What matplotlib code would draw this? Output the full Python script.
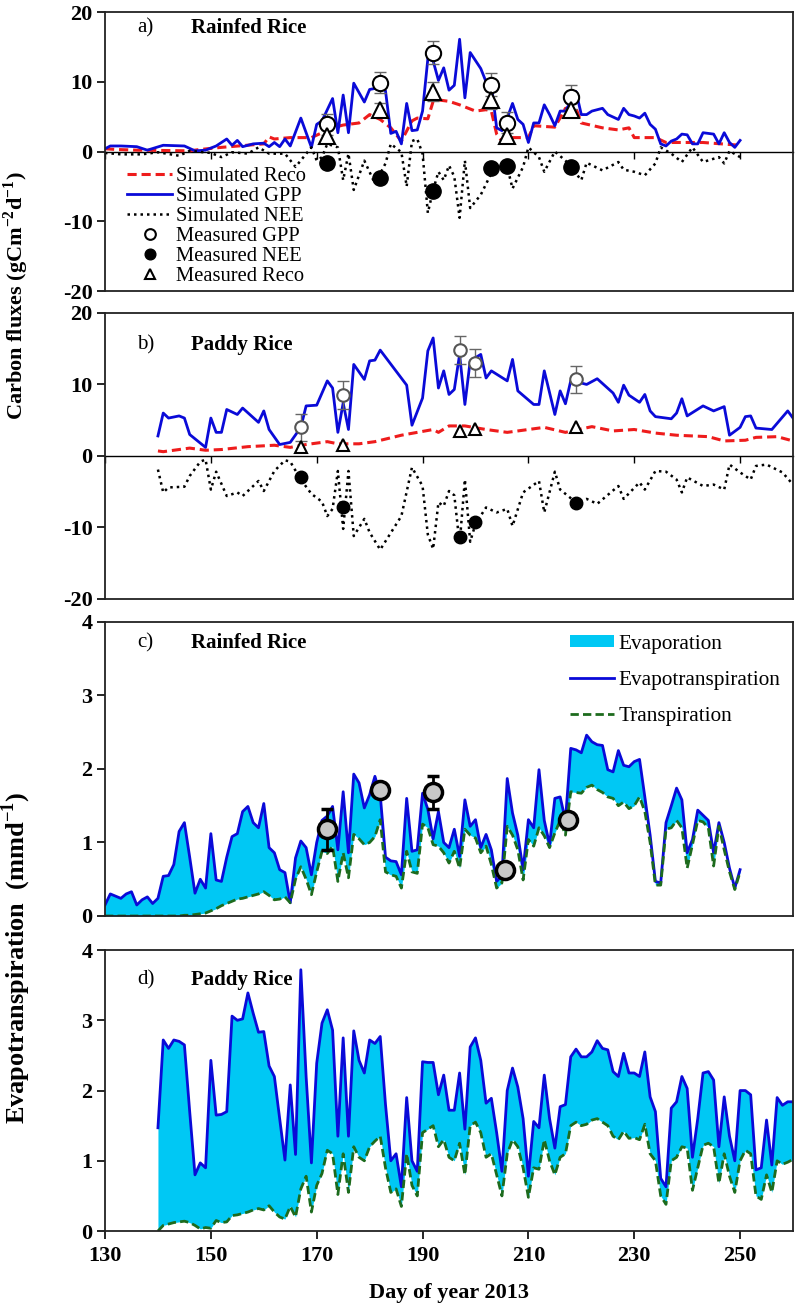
import matplotlib
matplotlib.use("Agg")
import matplotlib.pyplot as plt

plt.rcParams["font.family"] = ["Liberation Serif", "DejaVu Serif"]
plt.rcParams["mathtext.fontset"] = "custom"
plt.rcParams["mathtext.rm"] = "Liberation Serif"
plt.rcParams["mathtext.bf"] = "Liberation Serif:bold"

# ---------------- data: panel a (rainfed rice, carbon) ----------------
gpp_a_day = [130, 131, 133, 136, 138, 141, 145, 147, 149, 151, 153, 154, 155, 156, 158,
             160, 161, 162, 163, 164, 165, 167, 169, 170, 171, 173, 174, 175, 176, 177,
             179, 180, 182, 183, 184, 185, 186, 187, 188, 189, 190, 191, 192, 193, 194,
             195, 196, 197, 198, 199, 201, 202, 203, 204, 205, 206, 207, 208, 209, 210,
             211, 212, 213, 214, 215, 216, 217, 218, 219, 220, 221, 222, 224, 225, 227,
             228, 229, 230, 231, 232, 233, 234, 235, 236, 237, 238, 239, 240, 241, 242,
             243, 244, 245, 246, 247, 248, 249, 250]
gpp_a = [0.4, 0.8, 0.8, 0.7, 0.2, 0.9, 0.8, 0.1, 0.2, 0.8, 1.8, 0.9, 1.6, 0.7, 1.1,
         1.2, 0.7, 1.3, 0.7, 1.8, 0.8, 4.8, 0.6, 3.9, 4.4, 7.6, 2.7, 8.1, 2.7, 9.8,
         7.1, 8.9, 9.2, 8.7, 2.6, 2.9, 1.1, 6.9, 3.0, 3.1, 5.8, 13.3, 13.0, 10.2, 12.0,
         8.8, 9.5, 16.1, 7.7, 14.2, 11.9, 10.0, 9.6, 3.4, 3.0, 4.8, 6.9, 4.6, 3.9, 1.3,
         4.1, 4.1, 6.7, 5.3, 3.7, 5.8, 5.8, 7.2, 8.6, 5.3, 5.3, 5.8, 6.2, 5.3, 4.6,
         6.2, 5.3, 5.1, 4.8, 5.5, 3.9, 3.2, 1.1, 0.8, 1.5, 1.8, 2.5, 2.4, 1.1, 1.1,
         2.7, 2.6, 2.5, 1.1, 2.7, 1.3, 0.6, 1.6]
reco_a_day = [130, 132, 136, 146, 148, 152, 160, 161, 162, 165, 169, 171, 173, 175, 178,
              180, 182, 184, 186, 188, 189, 191, 192, 193, 195, 197, 200, 202, 203, 204,
              205, 206, 210, 211, 215, 217, 219, 220, 224, 227, 229, 230, 234, 236, 243, 250]
reco_a = [0.4, 0.3, 0.2, 0.1, 0.3, 0.6, 1.1, 2.1, 1.8, 2.0, 2.0, 2.7, 3.4, 3.8, 4.1,
          5.3, 4.6, 3.4, 1.5, 4.4, 4.8, 4.7, 7.2, 7.4, 7.2, 6.7, 5.8, 6.0, 5.8, 2.5,
          1.5, 2.0, 2.0, 3.7, 3.5, 6.2, 6.2, 4.1, 3.4, 3.1, 3.4, 2.0, 2.0, 1.3, 1.3, 0.9]
nee_a_day = [130, 133, 137, 140, 144, 146, 150, 152, 154, 157, 159, 161, 164, 166, 169,
             170, 171, 172, 174, 175, 176, 177, 179, 181, 183, 184, 186, 187, 188, 189,
             190, 191, 192, 193, 194, 195, 196, 197, 198, 199, 201, 203, 204, 206, 207,
             209, 210, 212, 213, 215, 217, 220, 221, 224, 227, 228, 230, 232, 234, 235,
             237, 239, 241, 243, 246, 247, 248, 250]
nee_a = [-0.2, -0.4, -0.4, -0.1, -0.6, 0.1, -0.2, -0.8, -0.1, -0.3, 0.6, -0.3, -0.3, -2.2, 0.6,
         -1.3, -0.8, 1.1, 0.6, -4.1, -0.3, -5.5, -1.3, -4.6, -1.7, 1.1, -0.1, -5.0, 1.5, 1.8,
         -0.3, -8.8, -5.5, -2.9, -4.1, -2.0, -3.6, -9.5, -1.3, -8.1, -6.2, -3.1, -2.2, -2.2, -5.3,
         -2.2, 0.6, -0.8, -2.9, 0.0, -1.3, -4.1, -1.6, -2.7, -1.5, -2.6, -2.9, -3.4, -1.7, 0.6,
         -0.3, -1.5, 0.6, -1.5, -0.8, -1.7, 0.1, -0.8]
meas_a_day = [172, 182, 192, 203, 206, 218]
gpp_meas_a = [3.9, 9.9, 14.2, 9.6, 4.1, 7.8]
gpp_err_a = [1.5, 1.5, 1.6, 1.6, 1.5, 1.7]
nee_meas_a = [-1.6, -3.8, -5.6, -2.3, -2.0, -2.2]
reco_meas_a = [2.3, 6.0, 8.6, 7.4, 2.3, 6.0]
reco_err_a = [0.8, 0.9, 1.4, 1.3, 1.1, 1.0]

# ---------------- data: panel b (paddy rice, carbon) ----------------
gpp_b_day = [140, 141, 142, 144, 145, 146, 149, 150, 151, 152, 153, 155, 156, 159, 160,
             161, 163, 165, 167, 168, 170, 172, 173, 174, 175, 176, 177, 179, 180, 181,
             182, 187, 188, 190, 191, 192, 193, 194, 195, 196, 197, 198, 199, 201, 202,
             203, 206, 207, 208, 211, 212, 213, 215, 216, 217, 218, 220, 221, 223, 226,
             227, 228, 229, 231, 232, 233, 234, 237, 238, 239, 240, 243, 245, 247, 248,
             250, 251, 252, 253, 256, 259, 260]
gpp_b = [2.8, 6.0, 5.3, 5.6, 5.3, 3.0, 1.2, 5.3, 3.3, 3.3, 6.5, 5.8, 6.7, 4.7, 6.3,
         3.7, 1.6, 1.9, 4.0, 7.0, 7.1, 10.5, 9.5, 3.3, 7.4, 3.7, 12.8, 10.7, 13.3, 13.4,
         14.8, 9.9, 4.3, 8.1, 14.7, 16.5, 9.5, 11.9, 8.6, 9.3, 14.2, 7.2, 13.3, 14.2, 10.9,
         11.9, 10.5, 13.5, 9.1, 7.2, 7.2, 11.9, 5.8, 9.1, 7.3, 10.5, 10.2, 10.0, 10.8, 8.8,
         7.5, 9.9, 8.5, 7.5, 8.6, 6.3, 5.5, 5.2, 6.0, 8.0, 5.6, 7.0, 6.3, 6.9, 2.9,
         4.0, 5.5, 5.6, 3.9, 3.7, 6.3, 5.3]
reco_b_day = [140, 141, 144, 146, 149, 152, 157, 162, 165, 168, 172, 174, 178, 181, 186,
              189, 192, 193, 195, 198, 202, 206, 210, 213, 217, 222, 226, 230, 234, 238,
              244, 247, 251, 253, 257, 260]
reco_b = [0.7, 0.6, 0.9, 1.1, 0.8, 0.9, 1.3, 1.5, 1.2, 1.6, 2.0, 1.7, 1.7, 2.0, 2.9,
          3.3, 3.7, 3.3, 4.2, 4.2, 3.7, 3.3, 3.7, 4.0, 3.3, 4.1, 3.5, 3.7, 3.2, 2.9,
          2.7, 2.1, 2.2, 2.6, 2.7, 2.1]
nee_b_day = [140, 141, 142, 145, 146, 148, 149, 150, 151, 153, 155, 156, 159, 160, 162,
             164, 165, 167, 169, 171, 172, 173, 174, 175, 176, 177, 179, 180, 182, 186,
             188, 190, 191, 192, 193, 194, 195, 196, 197, 198, 199, 200, 202, 204, 206,
             207, 209, 212, 213, 215, 216, 217, 219, 221, 223, 227, 228, 231, 232, 234,
             236, 238, 239, 240, 243, 245, 247, 248, 250, 252, 253, 255, 258, 260]
nee_b = [-1.9, -5.1, -4.4, -4.3, -2.8, -0.8, -0.5, -4.7, -2.2, -5.6, -5.1, -5.6, -3.5, -4.9, -2.1,
         -0.6, -0.8, -3.3, -5.3, -6.4, -8.4, -7.4, -2.1, -10.2, -2.1, -11.2, -8.8, -10.7, -13.1, -8.4,
         -1.6, -4.2, -11.0, -13.0, -6.5, -7.0, -4.9, -5.5, -12.3, -3.3, -12.0, -9.5, -7.2, -7.9, -7.4,
         -9.8, -5.1, -3.5, -7.9, -2.2, -4.7, -5.3, -6.5, -6.0, -6.7, -4.2, -6.0, -3.7, -4.7, -2.1,
         -2.2, -3.3, -5.1, -3.0, -4.2, -4.0, -4.7, -1.2, -2.3, -3.3, -1.4, -1.2, -2.3, -4.0]
meas_b_day = [167, 175, 197, 200, 219]
gpp_meas_b = [4.0, 8.5, 14.8, 13.0, 10.7]
gpp_err_b = [1.9, 2.0, 2.0, 2.0, 1.9]
nee_meas_b = [-2.9, -7.1, -11.3, -9.2, -6.6]
reco_meas_b = [1.2, 1.5, 3.5, 3.8, 4.0]

# ---------------- data: panel c (rainfed rice, water) ----------------
et_c_day = list(range(130, 251))
et_c = [0.15, 0.30, 0.27, 0.24, 0.30, 0.33, 0.15, 0.22, 0.26, 0.17,
        0.24, 0.54, 0.55, 0.70, 1.15, 1.27, 0.80, 0.31, 0.50, 0.38,
        1.12, 0.49, 0.47, 0.80, 1.08, 1.12, 1.42, 1.49, 1.27, 1.20,
        1.53, 0.93, 0.86, 0.63, 0.59, 0.18, 0.79, 1.02, 0.93, 0.56,
        1.00, 1.30, 1.36, 1.49, 0.90, 1.69, 0.86, 1.93, 1.81, 1.47,
        1.65, 1.90, 1.65, 0.80, 0.75, 0.74, 0.56, 1.60, 0.88, 0.90,
        1.67, 1.45, 1.05, 1.42, 1.00, 0.93, 1.18, 0.81, 1.58, 1.22,
        1.31, 0.93, 1.11, 0.90, 0.47, 0.55, 1.87, 1.40, 1.10, 0.63,
        1.31, 1.20, 1.99, 1.30, 0.97, 1.60, 1.62, 1.30, 2.28, 2.26,
        2.22, 2.46, 2.37, 2.33, 2.32, 1.99, 1.96, 2.25, 2.05, 2.03,
        2.10, 2.13, 1.62, 1.10, 0.47, 0.45, 1.27, 1.50, 1.74, 1.58,
        0.86, 1.04, 1.44, 1.37, 1.30, 0.86, 1.27, 1.00, 0.65, 0.38,
        0.63]
tr_c = [0.00, 0.00, 0.00, 0.00, 0.00, 0.00, 0.00, 0.00, 0.00, 0.00,
        0.00, 0.00, 0.00, 0.00, 0.00, 0.01, 0.01, 0.02, 0.03, 0.04,
        0.07, 0.10, 0.14, 0.17, 0.20, 0.23, 0.24, 0.26, 0.28, 0.30,
        0.33, 0.28, 0.22, 0.23, 0.26, 0.18, 0.50, 0.67, 0.50, 0.29,
        0.60, 0.88, 0.85, 0.95, 0.47, 0.86, 0.52, 1.11, 1.05, 0.97,
        1.00, 1.08, 1.31, 0.60, 0.56, 0.54, 0.38, 0.88, 0.60, 0.58,
        1.25, 1.20, 0.97, 0.95, 0.86, 0.72, 0.88, 0.65, 1.18, 1.10,
        1.06, 0.86, 0.95, 0.70, 0.38, 0.45, 1.22, 1.10, 0.90, 0.49,
        1.04, 0.95, 1.20, 1.09, 0.93, 1.13, 1.30, 1.10, 1.69, 1.68,
        1.67, 1.75, 1.78, 1.72, 1.68, 1.62, 1.60, 1.50, 1.55, 1.46,
        1.50, 1.62, 1.42, 1.00, 0.42, 0.42, 1.18, 1.20, 1.30, 1.20,
        0.65, 0.97, 1.30, 1.28, 1.20, 0.68, 1.22, 0.90, 0.60, 0.36,
        0.60]
meas_c_day = [172, 182, 192, 205.5, 217.5]
et_meas_c = [1.18, 1.72, 1.68, 0.63, 1.30]
et_err_c = [0.28, 0.0, 0.22, 0.0, 0.0]

# ---------------- data: panel d (paddy rice, water) ----------------
et_d_day = list(range(140, 261))
et_d = [1.47, 2.72, 2.60, 2.72, 2.70, 2.65, 1.70, 0.80, 0.97, 0.90,
        2.43, 1.65, 1.66, 1.70, 3.06, 3.00, 3.02, 3.39, 3.10, 2.83,
        2.84, 2.35, 2.20, 1.60, 1.01, 2.08, 1.09, 3.72, 2.20, 0.97,
        2.39, 2.96, 3.15, 2.86, 1.35, 2.75, 1.35, 2.85, 2.43, 2.25,
        2.72, 2.67, 2.77, 1.80, 1.00, 1.10, 0.63, 1.90, 1.00, 0.85,
        2.41, 2.40, 2.40, 1.94, 2.22, 1.72, 1.72, 2.25, 1.45, 2.62,
        2.75, 2.43, 1.82, 1.89, 1.40, 0.85, 2.00, 2.32, 2.05, 1.60,
        0.78, 1.56, 1.47, 2.22, 1.60, 1.18, 1.77, 1.80, 2.48, 2.59,
        2.48, 2.48, 2.55, 2.71, 2.60, 2.58, 2.27, 2.20, 2.53, 2.25,
        2.25, 2.20, 2.55, 1.91, 1.70, 0.75, 0.63, 1.75, 1.84, 2.20,
        2.03, 1.05, 1.60, 2.25, 2.27, 2.15, 1.20, 1.91, 1.35, 1.00,
        2.00, 2.00, 1.94, 0.87, 0.90, 1.58, 0.94, 1.90, 1.79, 1.84,
        1.84]
tr_d = [0.00, 0.08, 0.10, 0.12, 0.13, 0.14, 0.12, 0.08, 0.03, 0.05,
        0.04, 0.15, 0.12, 0.13, 0.22, 0.23, 0.25, 0.27, 0.30, 0.32,
        0.30, 0.36, 0.27, 0.20, 0.17, 0.35, 0.20, 0.60, 0.78, 0.27,
        0.65, 0.82, 1.15, 1.10, 0.52, 1.10, 0.55, 1.20, 1.05, 1.00,
        1.20, 1.28, 1.35, 0.90, 0.55, 0.60, 0.35, 1.10, 0.65, 0.50,
        1.40, 1.45, 1.50, 1.20, 1.30, 1.05, 1.00, 1.25, 0.80, 1.50,
        1.55, 1.40, 1.05, 1.10, 0.80, 0.50, 1.10, 1.30, 1.20, 0.90,
        0.48, 0.90, 0.88, 1.30, 1.00, 0.80, 1.05, 1.10, 1.50, 1.55,
        1.50, 1.52, 1.58, 1.60, 1.55, 1.50, 1.35, 1.30, 1.42, 1.32,
        1.33, 1.30, 1.52, 1.10, 1.00, 0.50, 0.38, 1.00, 1.05, 1.20,
        1.18, 0.58, 0.90, 1.22, 1.25, 1.20, 0.68, 1.10, 0.78, 0.55,
        1.00, 1.15, 1.10, 0.50, 0.45, 0.80, 0.55, 1.00, 0.95, 0.98,
        1.02]

carbon_ticks = [-20, -10, 0, 10, 20]
carbon_labels = ["-20", "-10", "0", "10", "20"]
water_ticks = [0, 1, 2, 3, 4]
day_ticks = [130, 150, 170, 190, 210, 230, 250]

BLUE = "#0a0ad8"
RED = "#ee1c1c"
CYAN = "#00c8f4"
GREEN = "#1d6b1d"
TICK_FONT = dict(fontsize=16, fontweight="bold")


def frame(ax, ticks, labels, ylim):
    ax.set_xlim(130, 260)
    ax.set_ylim(*ylim)
    ax.set_yticks(ticks)
    ax.set_yticklabels(labels, **TICK_FONT)
    ax.tick_params(axis="y", direction="out", length=6, width=1.2, right=False, pad=3)
    ax.set_xticks([])
    for s in ax.spines.values():
        s.set_linewidth(1.3)
        s.set_color("#222222")


def panel_title(ax, letter, name, y):
    ax.text(0.047, y, letter, transform=ax.transAxes, fontsize=15, va="center")
    ax.text(0.125, y, name, transform=ax.transAxes, fontsize=15,
            fontweight="bold", va="center")


def carbon_panel(ax, gd, g, rd, r, nd, n, md, gm, ge, nm, rm, re, big):
    frame(ax, carbon_ticks, carbon_labels, (-20, 20))
    zero = ax.secondary_xaxis(0.5)
    zero.set_alignment("bottom")
    zero.set_xticks(day_ticks)
    zero.tick_params(direction="out", length=5, width=1, labelbottom=False)
    zero.spines["bottom"].set_linewidth(1.0)

    l_reco, = ax.plot(rd, r, color=RED, lw=2.2, ls=(0, (3, 1.6)), label="Simulated Reco")
    l_gpp, = ax.plot(gd, g, color=BLUE, lw=2.0, label="Simulated GPP")
    l_nee, = ax.plot(nd, n, color="black", lw=1.8, ls=(0, (1, 1.6)), label="Simulated NEE")

    ms = 11 if big else 9
    edge = "black" if big else "#555555"
    ecol = "#666666"
    ax.errorbar(md, gm, yerr=ge, fmt="none", ecolor=ecol, elinewidth=1, capsize=4, zorder=4)
    if re is not None:
        ax.errorbar(md, rm, yerr=re, fmt="none", ecolor=ecol, elinewidth=1, capsize=4, zorder=4)
    m_gpp, = ax.plot(md, gm, "o", ms=ms, mfc="white", mec=edge, mew=1.5, zorder=5,
                     label="Measured GPP")
    m_nee, = ax.plot(md, nm, "o", ms=ms, mfc="black", mec="black", zorder=5,
                     label="Measured NEE")
    m_reco, = ax.plot(md, rm, "^", ms=ms, mfc="white", mec="black", mew=1.5, zorder=5,
                      label="Measured Reco")
    return [l_reco, l_gpp, l_nee, m_gpp, m_nee, m_reco]


def water_panel(ax, day, et, tr):
    frame(ax, water_ticks, [str(t) for t in water_ticks], (0, 4))
    f = ax.fill_between(day, tr, et, color=CYAN, lw=0, label="Evaporation")
    l_et, = ax.plot(day, et, color=BLUE, lw=2.0, label="Evapotranspiration")
    l_tr, = ax.plot(day, tr, color=GREEN, lw=2.0, ls=(0, (3, 1.5)), label="Transpiration")
    return [f, l_et, l_tr]


fig = plt.figure(figsize=(7.95, 13.11), dpi=100)
ax_a = fig.add_axes([0.1321, 0.7780, 0.8654, 0.2128])
ax_b = fig.add_axes([0.1321, 0.5431, 0.8654, 0.2182])
ax_c = fig.add_axes([0.1321, 0.3013, 0.8654, 0.2243])
ax_d = fig.add_axes([0.1321, 0.0610, 0.8654, 0.2143])

h = carbon_panel(ax_a, gpp_a_day, gpp_a, reco_a_day, reco_a, nee_a_day, nee_a,
                 meas_a_day, gpp_meas_a, gpp_err_a, nee_meas_a, reco_meas_a, reco_err_a, True)
carbon_panel(ax_b, gpp_b_day, gpp_b, reco_b_day, reco_b, nee_b_day, nee_b,
             meas_b_day, gpp_meas_b, gpp_err_b, nee_meas_b, reco_meas_b, None, False)
ax_a.legend(handles=h, loc="lower left", bbox_to_anchor=(0.02, -0.012), frameon=False,
            fontsize=14.8, markerscale=0.7, handlelength=2.2, handletextpad=0.2,
            labelspacing=0.03, borderaxespad=0.0)
panel_title(ax_a, "a)", "Rainfed Rice", 0.943)
panel_title(ax_b, "b)", "Paddy Rice", 0.888)

hw = water_panel(ax_c, et_c_day, et_c, tr_c)
ax_c.errorbar(meas_c_day, et_meas_c, yerr=et_err_c, fmt="o", ms=13, mfc="#c8c8c8",
              mec="black", mew=2.5, ecolor="black", elinewidth=2, capsize=4, zorder=5)
ax_c.legend(handles=hw, loc="upper right", frameon=False, fontsize=15.3,
            handlelength=2.1, handleheight=0.45, handletextpad=0.2,
            labelspacing=0.8, borderaxespad=0.2)
panel_title(ax_c, "c)", "Rainfed Rice", 0.929)

water_panel(ax_d, et_d_day, et_d, tr_d)
ax_d.set_xticks(day_ticks)
ax_d.set_xticklabels([str(d) for d in day_ticks], **TICK_FONT)
ax_d.tick_params(axis="x", direction="out", length=6, width=1.2, pad=5)
ax_d.set_xlabel("Day of year 2013", fontsize=16, fontweight="bold", labelpad=12)
panel_title(ax_d, "d)", "Paddy Rice", 0.893)

fig.text(0.02, 1 - 296 / 1311, r"Carbon fluxes (gCm$^{\mathbf{-2}}$d$^{\mathbf{-1}}$)",
         rotation=90, fontsize=16, fontweight="bold", ha="center", va="center")
fig.text(0.02, 1 - 958 / 1311, r"Evapotranspiration  (mmd$^{\mathbf{-1}}$)",
         rotation=90, fontsize=19, fontweight="bold", ha="center", va="center")

fig.savefig("out.png", dpi=100)
